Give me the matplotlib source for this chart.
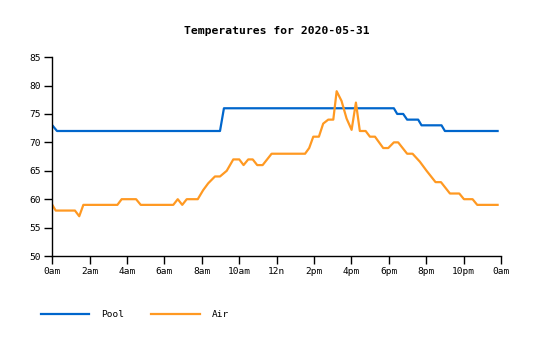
import matplotlib
matplotlib.use('Agg')
import matplotlib.pyplot as plt

# Pool temperature (hours since midnight, deg F)
pool_hours = [0.0, 0.25, 8.97, 9.18, 18.27, 18.45, 18.77, 18.98, 19.57, 19.75,
              20.82, 21.0, 23.82]
pool_temps = [73, 72, 72, 76, 76, 75, 75, 74, 74, 73, 73, 72, 72]

# Air temperature
air_hours = [0.0, 0.18, 1.21, 1.44, 1.66, 3.48, 3.71, 4.48, 4.73, 6.47, 6.71,
             6.95, 7.19, 7.78, 8.07, 8.34, 8.7, 8.97, 9.33, 9.68, 10.0, 10.23,
             10.48, 10.72, 10.96, 11.25, 11.73, 13.52, 13.74, 13.96, 14.26,
             14.49, 14.76, 15.03, 15.21, 15.47, 15.74, 16.01, 16.24, 16.45,
             16.76, 16.99, 17.26, 17.7, 17.97, 18.27, 18.5, 18.98, 19.27,
             19.66, 20.02, 20.5, 20.79, 21.27, 21.77, 22.02, 22.48, 22.73, 23.82]
air_temps = [59, 58, 58, 57, 59, 59, 60, 60, 59, 59, 60,
             59, 60, 60, 61.6, 62.8, 64, 64, 65, 67, 67, 66,
             67, 67, 66, 66, 68, 68, 69, 71, 71,
             73.3, 74, 74, 79, 77.3, 74.2, 72.2, 77, 72,
             72, 71, 71, 69, 69, 70, 70, 68, 68,
             66.6, 65, 63, 63, 61, 61, 60, 60, 59, 59]

tick_hours = [0, 2, 4, 6, 8, 10, 12, 14, 16, 18, 20, 22, 24]
tick_labels = ['0am', '2am', '4am', '6am', '8am', '10am', '12n', '2pm', '4pm',
               '6pm', '8pm', '10pm', '0am']
y_ticks = [50, 55, 60, 65, 70, 75, 80, 85]

plt.rcParams['font.family'] = 'DejaVu Sans Mono'

fig = plt.figure(figsize=(5.35, 3.4), dpi=100)
ax = fig.add_axes([0.0978, 0.247, 0.8386, 0.585])

ax.plot(pool_hours, pool_temps, color='#0066cc', linewidth=1.6, label='Pool')
ax.plot(air_hours, air_temps, color='#ff9922', linewidth=1.6, label='Air')

ax.set_xlim(0, 24)
ax.set_ylim(50, 85)
ax.set_xticks(tick_hours)
ax.set_xticklabels(tick_labels)
ax.set_yticks(y_ticks)
ax.tick_params(labelsize=6.8, length=6, width=1, pad=2, direction='out')

for side in ['top', 'right']:
    ax.spines[side].set_visible(False)
for side in ['left', 'bottom']:
    ax.spines[side].set_linewidth(1)

fig.text(0.517, 0.908, 'Temperatures for 2020-05-31', ha='center', va='center',
         fontsize=8.2, fontweight='bold')

# legend under the plot, left side
fig.legend(loc='center left', bbox_to_anchor=(0.068, 0.075), ncol=2,
           frameon=False, fontsize=6.8, handlelength=5.1, handletextpad=1.25,
           columnspacing=2.9, borderpad=0)

fig.savefig('out.png', dpi=100)
